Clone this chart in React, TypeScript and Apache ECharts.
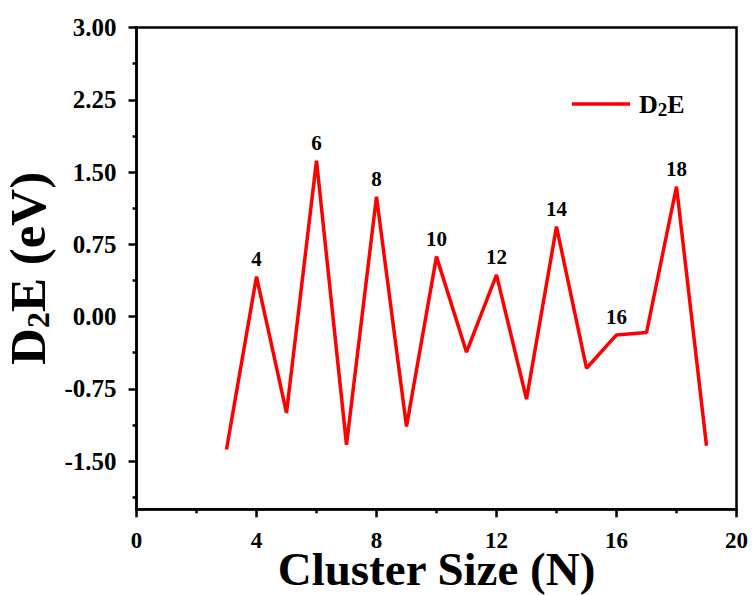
import React, { useEffect, useRef } from "react";
import * as echarts from "echarts";

const clusterSizes = [3, 4, 5, 6, 7, 8, 9, 10, 11, 12, 13, 14, 15, 16, 17, 18, 19];
const d2eValues = [-1.38, 0.415, -1.0, 1.618, -1.33, 1.245, -1.14, 0.622, -0.37, 0.433, -0.857, 0.934, -0.536, -0.19, -0.166, 1.349, -1.34];
const labeledSizes = [4, 6, 8, 10, 12, 14, 16, 18];
const yMajorTicks = [-1.5, -0.75, 0, 0.75, 1.5, 2.25, 3.0];
const yMinorTicks = [-1.875, -1.125, -0.375, 0.375, 1.125, 1.875, 2.625];

const FONT = "'Liberation Serif', 'Times New Roman', serif";

export default function App() {
  const ref = useRef<HTMLDivElement>(null);
  useEffect(() => {
    if (!ref.current) return;
    const chart = echarts.init(ref.current, null, { renderer: "svg" });
    const lineData = clusterSizes.map((n, i) => ({
      value: [n, d2eValues[i]],
      label: { show: labeledSizes.includes(n) },
    }));
    chart.setOption({
      animation: false,
      backgroundColor: "#ffffff",
      grid: {
        left: 136.5,
        right: 16.5,
        top: 27.5,
        bottom: 85.7,
        show: true,
        borderColor: "#000",
        borderWidth: 2.5,
        backgroundColor: "transparent",
        containLabel: false,
        outerBoundsMode: "none",
      },
      legend: {
        data: ["D2E"],
        left: 567,
        top: 86,
        icon: "rect",
        itemWidth: 58,
        itemHeight: 3.5,
        itemStyle: { color: "#ff0000" },
        formatter: () => "{a|D}{b|2}{a|E}",
        textStyle: {
          padding: [0, 0, 0, 4],
          rich: {
            a: { fontFamily: FONT, fontWeight: "bold", fontSize: 26, color: "#000" },
            b: { fontFamily: FONT, fontWeight: "bold", fontSize: 19, color: "#000", padding: [10, 0, 0, 0] },
          },
        },
      },
      xAxis: {
        type: "value",
        min: 0,
        max: 20,
        interval: 4,
        name: "Cluster Size (N)",
        nameLocation: "middle",
        nameGap: 43.5,
        nameMoveOverlap: false,
        nameTextStyle: { fontFamily: FONT, fontWeight: "bold", fontSize: 47, lineHeight: 32, color: "#000" },
        axisLine: { show: true, onZero: false, lineStyle: { color: "#000", width: 2.5 } },
        axisTick: { show: true, inside: false, length: 8, lineStyle: { color: "#000", width: 2.5 } },
        minorTick: { show: true, splitNumber: 2, length: 4, lineStyle: { color: "#000", width: 2.5 } },
        axisLabel: { fontFamily: FONT, fontWeight: "bold", fontSize: 23, lineHeight: 16, color: "#000", margin: 23 },
        splitLine: { show: false },
        minorSplitLine: { show: false },
      },
      yAxis: [
        {
          type: "value",
          min: -2,
          max: 3,
          name: "{a|D}{b|2}{a|E (eV)}",
          nameLocation: "middle",
          nameGap: 82,
          nameRotate: 90,
          nameTextStyle: {
            color: "#000",
            rich: {
              a: { fontFamily: FONT, fontWeight: "bold", fontSize: 51, color: "#000" },
              b: { fontFamily: FONT, fontWeight: "bold", fontSize: 32, color: "#000", padding: [20, 0, 0, 0] },
            },
          },
          axisLine: { show: true, onZero: false, lineStyle: { color: "#000", width: 2.5 } },
          axisTick: { show: true, inside: false, length: 8, customValues: yMajorTicks, lineStyle: { color: "#000", width: 2.5 } },
          axisLabel: {
            customValues: yMajorTicks,
            formatter: (v: number) => v.toFixed(2),
            fontFamily: FONT,
            fontWeight: "bold",
            fontSize: 25,
            color: "#000",
            margin: 20,
          },
          splitLine: { show: false },
        },
        {
          type: "value",
          min: -2,
          max: 3,
          position: "left",
          axisLine: { show: false, onZero: false },
          axisTick: { show: true, inside: false, length: 4, customValues: yMinorTicks, lineStyle: { color: "#000", width: 2.5 } },
          axisLabel: { show: false },
          splitLine: { show: false },
        },
      ],
      series: [
        {
          name: "D2E",
          type: "line",
          data: lineData,
          symbol: "circle",
          symbolSize: 0,
          showSymbol: true,
          lineStyle: { color: "#ff0000", width: 3.5 },
          itemStyle: { color: "#ff0000" },
          label: {
            position: "top",
            distance: 7,
            formatter: (p: any) => String(p.value[0]),
            fontFamily: FONT,
            fontWeight: "bold",
            fontSize: 21,
            color: "#000000",
          },
        },
      ],
    });
    return () => chart.dispose();
  }, []);
  return (
    <div
      ref={ref}
      style={{ position: "fixed", left: 0, top: 0, width: 753, height: 595, background: "#fff" }}
    />
  );
}
